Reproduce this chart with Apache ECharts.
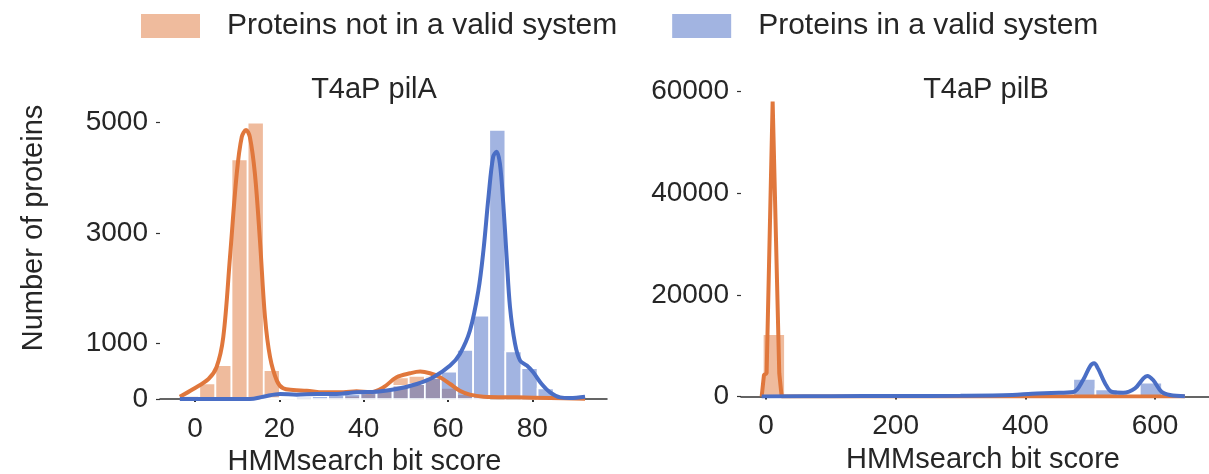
<!DOCTYPE html>
<html><head><meta charset="utf-8">
<script src="https://cdn.jsdelivr.net/npm/echarts@6.0.0/dist/echarts.min.js"></script>
<style>html,body{margin:0;padding:0;background:#fff}#c{width:1209px;height:474px}</style>
</head><body><div id="c"></div>
<script>
// ---- data ----
const legendNames = ['Proteins not in a valid system', 'Proteins in a valid system'];
const panelTitles = ['T4aP pilA', 'T4aP pilB'];
const xAxisTitle = 'HMMsearch bit score';
const yAxisTitle = 'Number of proteins';

const pilA_xTicks = [0, 20, 40, 60, 80];
const pilA_yTicks = [0, 1000, 3000, 5000];
const pilB_xTicks = [0, 200, 400, 600];
const pilB_yTicks = [0, 20000, 40000, 60000];

const pilA_binEdges = [-2.8, 1.02, 4.84, 8.66, 12.48, 16.3, 20.12, 23.94, 27.76, 31.58, 35.4, 39.22, 43.04, 46.86, 50.68, 54.5, 58.32, 62.14, 65.96, 69.78, 73.6, 77.42, 81.24, 85.06, 88.88];
const pilA_notValidCounts = [55, 284, 614, 4335, 5000, 524, 50, 40, 30, 40, 60, 100, 170, 390, 420, 420, 200, 90, 10, 0, 0, 0, 0, 0];
const pilA_validCounts = [0, 0, 0, 5, 10, 15, 30, 40, 50, 70, 90, 110, 150, 240, 270, 380, 496, 890, 1510, 4870, 860, 560, 190, 50];

const pilA_notValidKde = [[-3.6,40],[-0.4,180],[3.2,363],[5.1,574],[6.7,1118],[8.3,2570],[9.9,4081],[11.1,4746],[12.1,4867],[13.0,4746],[14.2,4081],[15.4,2872],[16.6,1481],[17.8,756],[19.4,333],[20.9,193],[23.3,163],[26.5,151],[30.4,121],[35.2,121],[38.3,139],[41.5,121],[44.7,212],[47.8,393],[51.0,466],[53.4,496],[55.7,466],[58.1,393],[60.5,272],[62.8,151],[65.2,79],[68.4,42],[76.3,30],[84.2,18],[92.5,5]];
const pilA_validKde = [[-3.6,0],[13.0,0],[16.2,42],[20.2,91],[24.1,79],[28.9,91],[33.6,91],[38.3,121],[43.1,133],[47.8,181],[52.6,272],[56.5,393],[60.5,605],[62.8,816],[65.2,1239],[67.2,1965],[68.4,2690],[69.6,3658],[70.7,4383],[71.5,4474],[72.3,4262],[73.1,3537],[73.9,2570],[74.7,1663],[75.9,998],[77.1,695],[78.7,605],[80.2,484],[82.2,272],[84.2,121],[86.6,30],[88.9,18],[92.5,42]];

const pilB_binEdges = [-4.9, 29.3, 63.5, 97.7, 131.9, 166.1, 200.3, 234.5, 268.7, 302.9, 337.1, 371.3, 405.5, 439.7, 473.9, 508.1, 542.3, 576.5, 610.7, 644.9];
const pilB_notValidCounts = [12290, 0, 0, 0, 0, 0, 0, 0, 0, 0, 0, 0, 0, 0, 0, 0, 0, 0, 0];
const pilB_validCounts = [0, 0, 0, 0, 0, 0, 0, 0, 0, 0, 0, 50, 100, 300, 3440, 1410, 400, 2710, 100];

const pilB_notValidKde = [[-6.6,0],[-3.1,4230],[1.0,4560],[10.3,58000],[20.5,4560],[24.2,0],[60,0],[646,0]];
const pilB_validKde = [[-6.6,0],[100,50],[200,100],[300,150],[380,300],[410,550],[440,700],[474,880],[489,3240],[500,5990],[506,6520],[512,5530],[523,2580],[533,940],[551,750],[569,1600],[582,3570],[588,4030],[597,3240],[610,940],[623,300],[646,50]];

// ---- style ----
const FONT = 'Liberation Sans, Arial, Helvetica, sans-serif';
const TXT = '#262626';
const AX = '#333333';
const orangeLine = '#E0773C', blueLine = '#4A6EC5';
const orangeFill = 'rgba(224,119,60,0.5)', blueFill = 'rgba(70,105,196,0.5)';
const orangePatch = '#EFBB9D', bluePatch = '#A2B4E1';

function histData(edges, counts) {
  return counts.map((c, i) => [edges[i], edges[i + 1], c]).filter(d => d[2] > 0);
}
function histSeries(name, idx, data, fill, z) {
  return {
    type: 'custom', name, xAxisIndex: idx, yAxisIndex: idx, data, z,
    encode: { x: [0, 1], y: 2 }, silent: true, animation: false,
    itemStyle: { color: fill },
    renderItem: (params, api) => {
      const a = api.coord([api.value(0), api.value(2)]);
      const b = api.coord([api.value(1), 0]);
      return { type: 'rect', shape: { x: a[0], y: a[1], width: b[0] - a[0], height: b[1] - a[1] },
        style: { fill, stroke: '#ffffff', lineWidth: 1.7 } };
    }
  };
}
function lineSeries(name, idx, data, color, smooth, z) {
  return { type: 'line', name, xAxisIndex: idx, yAxisIndex: idx, data, smooth, showSymbol: false, symbol: 'none',
    lineStyle: { color, width: 4 }, itemStyle: { color }, z, silent: true, animation: false };
}
const plain = v => String(v);
function xAxisCfg(idx, min, max, ticks, namePad) {
  return { type: 'value', gridIndex: idx, min, max,
    axisLine: { show: true, onZero: false, lineStyle: { color: AX, width: 1.5 } },
    axisTick: { show: true, length: 3, customValues: ticks, lineStyle: { color: AX, width: 2 } },
    axisLabel: { customValues: ticks, formatter: plain, fontSize: 28, color: TXT, fontFamily: FONT, margin: 16 },
    splitLine: { show: false },
    name: xAxisTitle, nameLocation: 'middle', nameGap: 48,
    nameTextStyle: { fontSize: 29, color: TXT, fontFamily: FONT, padding: namePad } };
}
function yAxisCfg(idx, max, ticks, withName) {
  const c = { type: 'value', gridIndex: idx, min: 0, max,
    axisLine: { show: false, onZero: false },
    axisTick: { show: true, length: 4, customValues: ticks, lineStyle: { color: AX, width: 1.2 } },
    axisLabel: { customValues: ticks, formatter: plain, fontSize: 28, color: TXT, fontFamily: FONT, margin: 12 },
    splitLine: { show: false } };
  if (withName) {
    c.name = yAxisTitle; c.nameLocation = 'middle'; c.nameGap = 112; c.nameRotate = 90;
    c.nameTextStyle = { fontSize: 29, color: TXT, fontFamily: FONT };
  }
  return c;
}

const chart = echarts.init(document.getElementById('c'), null, { renderer: 'canvas' });
chart.setOption({
  backgroundColor: '#ffffff',
  animation: false,
  textStyle: { fontFamily: FONT },
  title: [
    { text: panelTitles[0], left: 369, top: 70, textAlign: 'center', textStyle: { fontSize: 29, fontWeight: 'normal', color: TXT, fontFamily: FONT } },
    { text: panelTitles[1], left: 981, top: 70, textAlign: 'center', textStyle: { fontSize: 29, fontWeight: 'normal', color: TXT, fontFamily: FONT } }
  ],
  legend: {
    left: 136, top: 6, itemWidth: 59, itemHeight: 24, itemGap: 55,
    icon: 'rect', selectedMode: false,
    textStyle: { fontSize: 30, color: TXT, fontFamily: FONT, padding: [0, 0, 0, 22] },
    data: [
      { name: legendNames[0], itemStyle: { color: orangePatch } },
      { name: legendNames[1], itemStyle: { color: bluePatch } }
    ]
  },
  grid: [
    { left: 160, top: 57, width: 447, height: 342, containLabel: false, outerBoundsMode: 'none' },
    { left: 741, top: 91.5, width: 468, height: 305, containLabel: false, outerBoundsMode: 'none' }
  ],
  xAxis: [
    xAxisCfg(0, -8.3, 97.7, pilA_xTicks, [0, 38, 0, 0]),
    xAxisCfg(1, -38.5, 683.2, pilB_xTicks, [0, 0, 0, 16])
  ],
  yAxis: [
    yAxisCfg(0, 6190, pilA_yTicks, true),
    yAxisCfg(1, 60000, pilB_yTicks, false)
  ],
  series: [
    histSeries(legendNames[0], 0, histData(pilA_binEdges, pilA_notValidCounts), orangeFill, 2),
    histSeries(legendNames[1], 0, histData(pilA_binEdges, pilA_validCounts), blueFill, 3),
    lineSeries('pilA KDE not valid', 0, pilA_notValidKde, orangeLine, 0.35, 4),
    lineSeries('pilA KDE valid', 0, pilA_validKde, blueLine, 0.35, 5),
    histSeries(legendNames[0], 1, histData(pilB_binEdges, pilB_notValidCounts), orangeFill, 2),
    histSeries(legendNames[1], 1, histData(pilB_binEdges, pilB_validCounts), blueFill, 3),
    lineSeries('pilB KDE not valid', 1, pilB_notValidKde, orangeLine, false, 4),
    lineSeries('pilB KDE valid', 1, pilB_validKde, blueLine, 0.35, 5)
  ]
});
</script></body></html>
